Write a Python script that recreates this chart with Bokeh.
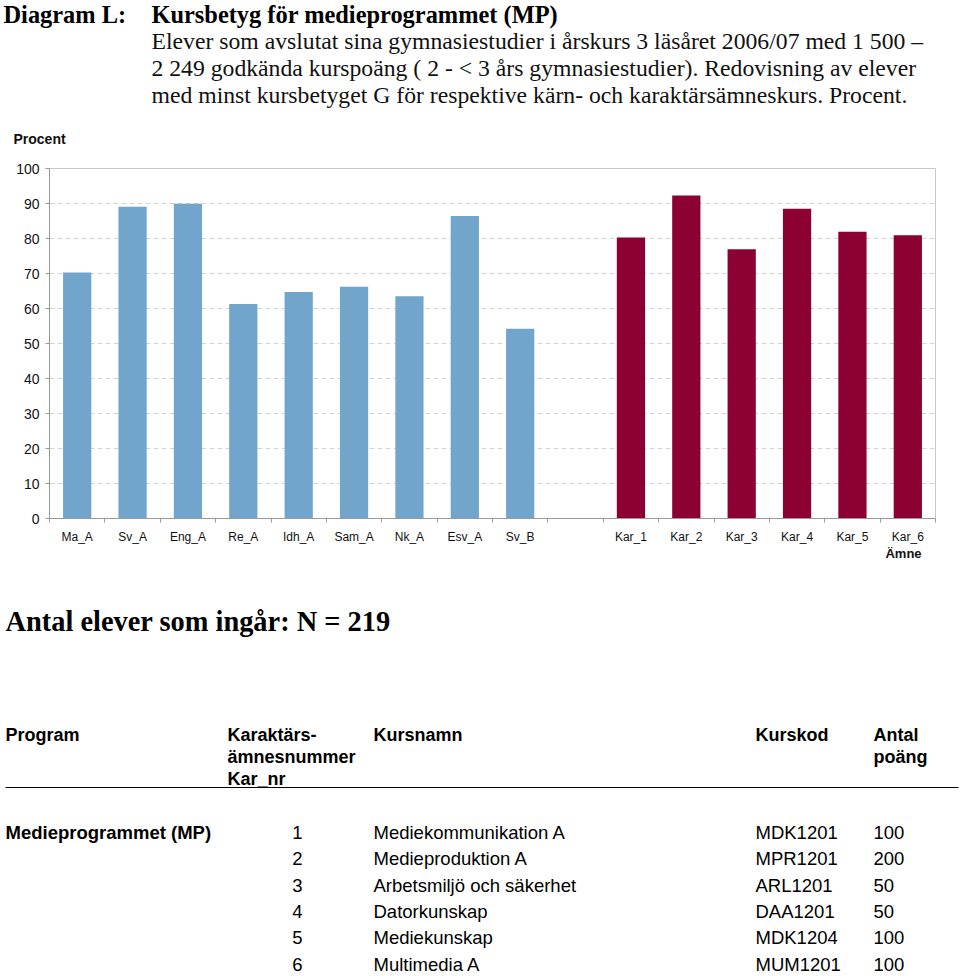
from bokeh.plotting import figure
from bokeh.models import Range1d, FixedTicker, SingleIntervalTicker, LinearAxis
from bokeh.core.properties import value
from bokeh.embed import file_html
from bokeh.resources import INLINE

# ---------------- data ----------------
title_label = "Diagram L:"
title_text = "Kursbetyg för medieprogrammet (MP)"
subtitle_lines = [
    "Elever som avslutat sina gymnasiestudier i årskurs 3 läsåret 2006/07 med 1 500 –",
    "2 249 godkända kurspoäng ( 2 - < 3 års gymnasiestudier). Redovisning av elever",
    "med minst kursbetyget G för respektive kärn- och karaktärsämneskurs. Procent.",
]
y_title = "Procent"
x_title = "Ämne"

core_cats = ["Ma_A", "Sv_A", "Eng_A", "Re_A", "Idh_A", "Sam_A", "Nk_A", "Esv_A", "Sv_B"]
core_vals = [70.3, 89.1, 89.9, 61.3, 64.7, 66.2, 63.5, 86.4, 54.2]
kar_cats = ["Kar_1", "Kar_2", "Kar_3", "Kar_4", "Kar_5", "Kar_6"]
kar_vals = [80.3, 92.3, 76.9, 88.5, 81.9, 80.9]
all_slots = core_cats + [""] + kar_cats  # empty slot separates the groups
y_max = 100
y_step = 10

n_text = "Antal elever som ingår: N = 219"
table_headers = [["Program"], ["Karaktärs-", "ämnesnummer", "Kar_nr"], ["Kursnamn"], ["Kurskod"], ["Antal", "poäng"]]
program = ["Medieprogrammet (MP)"]
kar_nr = ["1", "2", "3", "4", "5", "6"]
kursnamn = ["Mediekommunikation A", "Medieproduktion A", "Arbetsmiljö och säkerhet",
            "Datorkunskap", "Mediekunskap", "Multimedia A"]
kurskod = ["MDK1201", "MPR1201", "ARL1201", "DAA1201", "MDK1204", "MUM1201"]
poang = ["100", "200", "50", "50", "100", "100"]

# ---------------- layout / style ----------------
BLUE = "#71a5cc"
RED = "#8c0034"
AXIS = "#999999"
SERIF = value("Liberation Serif")
SANS = value("Liberation Sans")
W, H = 960, 976
X0, X1, Y0, Y1 = 49, 935, 168, 518  # chart area on the page (px)

n_slots = len(all_slots)
ppx = (X1 - X0) / n_slots
ppy = (Y1 - Y0) / y_max
x_lo, x_hi = -0.5, n_slots - 0.5

p = figure(width=W, height=H,
           x_range=Range1d(x_lo - X0 / ppx, x_hi + (W - X1) / ppx),
           y_range=Range1d(-(H - Y1) / ppy, y_max + Y0 / ppy),
           output_backend="svg", toolbar_location=None,
           x_axis_type=None, y_axis_type=None, min_border=0)
p.outline_line_color = None
p.extra_x_ranges = {"px": Range1d(0, W)}
p.extra_y_ranges = {"py": Range1d(H, 0)}


def txt(x, y, text, font, size, bold=False, align="left", color="black"):
    p.text(x=x, y=y, text=text, text_font=font, text_font_size=size,
           text_font_style="bold" if bold else "normal", text_align=align,
           text_baseline="middle", text_color=color,
           x_range_name="px", y_range_name="py")


# ---------------- title block ----------------
txt([3], [14], [title_label], SERIF, "24.4px", bold=True)
txt([151], [14], [title_text], SERIF, "24.4px", bold=True)
txt([151] * 3, [40 + 27 * i for i in range(3)], subtitle_lines, SERIF, "23.7px", color="#111111")
txt([13], [138], [y_title], SANS, "14px", bold=True, color="#111111")

# ---------------- bar chart ----------------
grid_vals = list(range(y_step, y_max, y_step))
p.segment(x0=[x_lo] * len(grid_vals), x1=[x_hi] * len(grid_vals), y0=grid_vals, y1=grid_vals,
          line_color="#d4d4d4", line_dash="5 3", line_width=1)

core_x = [all_slots.index(c) for c in core_cats]
kar_x = [all_slots.index(c) for c in kar_cats]
p.vbar(x=core_x, top=core_vals, width=0.51, fill_color=BLUE, line_color=None)
p.vbar(x=kar_x, top=kar_vals, width=0.51, fill_color=RED, line_color=None)

# plot-area border (top / right)
p.quad(left=[x_lo], right=[x_hi], bottom=[0], top=[y_max], fill_color=None,
       line_color="#c8c8c8", line_width=1)

xaxis = LinearAxis(fixed_location=0, bounds=(x_lo, x_hi),
                   ticker=FixedTicker(ticks=core_x + kar_x,
                                      minor_ticks=[i - 0.5 for i in range(n_slots + 1)]))
xaxis.major_label_overrides = {i: c for i, c in enumerate(all_slots) if c}
xaxis.major_tick_line_color = None
xaxis.major_tick_out = 0
xaxis.major_tick_in = 0
xaxis.minor_tick_out = 4
xaxis.minor_tick_in = 0
xaxis.minor_tick_line_color = AXIS
xaxis.axis_line_color = AXIS
xaxis.major_label_standoff = 7
xaxis.major_label_text_font = "Liberation Sans"
xaxis.major_label_text_font_size = "12px"
xaxis.major_label_text_color = "#111111"
p.add_layout(xaxis, "below")

yaxis = LinearAxis(fixed_location=x_lo, bounds=(0, y_max),
                   ticker=SingleIntervalTicker(interval=y_step, num_minor_ticks=0))
yaxis.axis_line_color = AXIS
yaxis.major_tick_line_color = AXIS
yaxis.major_tick_out = 4
yaxis.major_tick_in = 0
yaxis.minor_tick_line_color = None
yaxis.major_label_standoff = 6
yaxis.major_label_text_font = "Liberation Sans"
yaxis.major_label_text_font_size = "14px"
yaxis.major_label_text_color = "#111111"
p.add_layout(yaxis, "left")

txt([903], [553], [x_title], SANS, "13px", bold=True, align="center", color="#111111")

# ---------------- table block ----------------
txt([5], [621], [n_text], SERIF, "28.4px", bold=True)

col_x = [5, 227, 373, 755, 873]
hx, hy, ht = [], [], []
for cx, lines in zip(col_x, table_headers):
    for j, line in enumerate(lines):
        hx.append(cx)
        hy.append(734 + 22 * j)
        ht.append(line)
txt(hx, hy, ht, SANS, "18px", bold=True)
p.segment(x0=[5], x1=[958], y0=[787], y1=[787], line_color="black", line_width=1.2,
          x_range_name="px", y_range_name="py")

row_y = [832 + 26.3 * i for i in range(len(kursnamn))]
txt([5], row_y[:1], program, SANS, "18.5px", bold=True)
txt([297] * len(kar_nr), row_y, kar_nr, SANS, "18.5px", align="center")
txt([373] * len(kursnamn), row_y, kursnamn, SANS, "18.5px")
txt([755] * len(kurskod), row_y, kurskod, SANS, "18.5px")
txt([873] * len(poang), row_y, poang, SANS, "18.5px")

open("out.html", "w").write(file_html(p, INLINE))
